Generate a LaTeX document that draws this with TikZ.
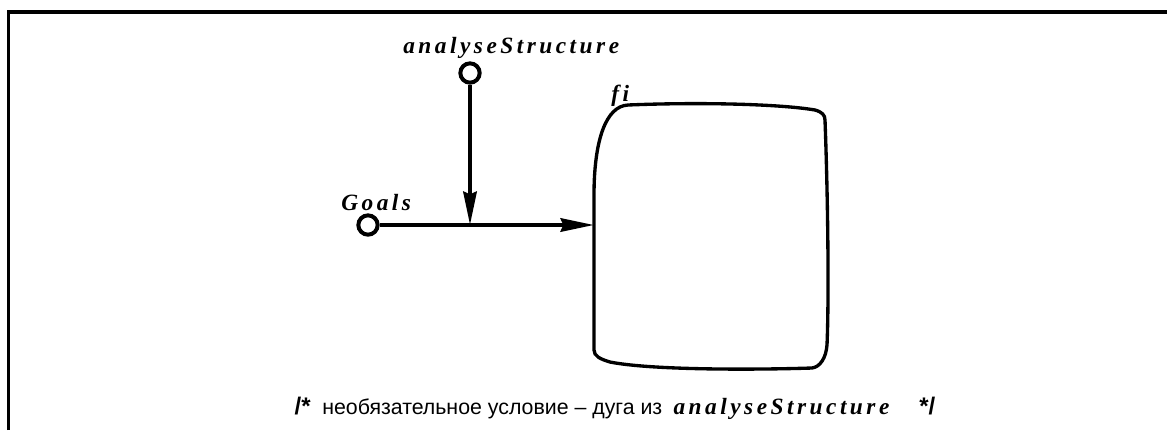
\documentclass[tikz,border=0pt]{standalone}
\usepackage{fontspec}
\usepackage{tikz}
\usetikzlibrary{arrows.meta,positioning,calc}

\newfontfamily\lblfont[LetterSpace=15]{Liberation Serif Bold Italic}
\newfontfamily\notefont{Liberation Sans}
\newfontfamily\cmtfont{Liberation Sans Bold}

\begin{document}
\begin{tikzpicture}[
  x=0.75pt, y=-0.75pt,
  port/.style={circle, draw, line width=3pt, minimum size=14.5pt, inner sep=0pt, fill=white},
  lbl/.style={inner sep=0pt, font=\lblfont\fontsize{17.5}{20}\selectfont},
  note/.style={inner sep=0pt, font=\notefont\fontsize{16}{19}\selectfont},
  cmt/.style={inner sep=0pt, font=\cmtfont\fontsize{18}{20}\selectfont},
  flow/.style={line width=3pt, -{Stealth[length=25pt,width=10pt,inset=2pt]}},
  frame/.style={line width=2.5pt}
]
  \useasboundingbox (0,0) rectangle (1167,430);
  \draw[frame] (8.5,430) -- (8.5,12) -- (1167,12);

  % function block
  \draw[line width=2.5pt] (594,350) -- (594,195)
    .. controls (594,140) and (606,106) .. (628,105)
    .. controls (700,102) and (780,104) .. (815,110)
    .. controls (822,112) and (825,115) .. (825,120)
    .. controls (828,200) and (829,300) .. (827,345)
    .. controls (826,358) and (820,367) .. (812,368)
    .. controls (750,370) and (650,370) .. (610,362)
    .. controls (600,359) and (594,356) .. cycle;
  \node[lbl, anchor=base west] (filbl) at (611,101) {fi};

  \node[port] (as) at (470,73) {};
  \node[port] (goals) at (368,225) {};
  \node[lbl, anchor=base west] (aslbl) at (403,53) {analyseStructure};
  \node[lbl, anchor=base west] (goalslbl) at (341,210) {Goals};

  \coordinate (join) at (470,225);
  \coordinate (fiin) at (594,225);
  \draw[flow] (goals) -- (fiin);
  \draw[flow] (as) -- (join);

  % comment line
  \node[cmt, anchor=base east] (open) at (311,414) {/*};
  \node[note, anchor=base west] (txt) at (322,414) {необязательное условие – дуга из};
  \node[lbl, base right=8pt of txt] (argname) {analyseStructure};
  \node[cmt, base right=22pt of argname] (close) {*/};
\end{tikzpicture}
\end{document}
